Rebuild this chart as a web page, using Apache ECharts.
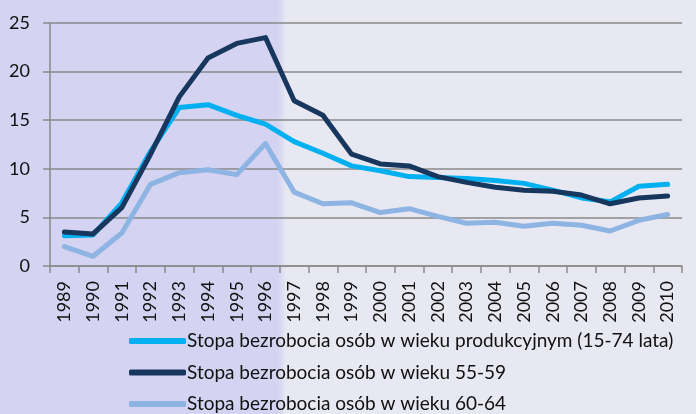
<!DOCTYPE html>
<html>
<head>
<meta charset="utf-8">
<script src="https://cdn.jsdelivr.net/npm/echarts@6/dist/echarts.min.js"></script>
<style>
  html, body { margin: 0; padding: 0; background: #e8e8f2; }
  #chart { width: 696px; height: 414px; }
</style>
</head>
<body>
<div id="chart"></div>
<script>
const years = ['1989', '1990', '1991', '1992', '1993', '1994', '1995', '1996', '1997', '1998', '1999',
  '2000', '2001', '2002', '2003', '2004', '2005', '2006', '2007', '2008', '2009', '2010']
const productive = [3.1, 3.2, 6.5, 11.8, 16.3, 16.6, 15.5, 14.6, 12.8, 11.6, 10.3,
  9.8, 9.2, 9.1, 9.0, 8.8, 8.5, 7.8, 7.0, 6.6, 8.2, 8.4]
const age5559 = [3.5, 3.3, 6.0, 11.5, 17.4, 21.4, 22.9, 23.5, 17.0, 15.5, 11.5,
  10.5, 10.3, 9.2, 8.6, 8.1, 7.8, 7.7, 7.3, 6.4, 7.0, 7.2]
const age6064 = [2.0, 1.0, 3.4, 8.4, 9.6, 9.9, 9.4, 12.6, 7.6, 6.4, 6.5,
  5.5, 5.9, 5.1, 4.4, 4.5, 4.1, 4.4, 4.2, 3.6, 4.7, 5.3]
const names = [
  'Stopa bezrobocia osób w wieku produkcyjnym (15-74 lata)',
  'Stopa bezrobocia osób w wieku 55-59',
  'Stopa bezrobocia osób w wieku 60-64'
]
const shadeUntil = '1996'

const font = 'Lato'
const axisGray = '#8a8a8a'

function line (name, data, color) {
  return {
    name: name,
    type: 'line',
    data: data,
    symbol: 'none',
    lineStyle: { width: 5, color: color, cap: 'round', join: 'round' },
    itemStyle: { color: color },
    animation: false
  }
}

const myChart = echarts.init(document.getElementById('chart'))
myChart.setOption({
  textStyle: { fontFamily: font },
  grid: { left: 50, right: 14, top: 23, bottom: 148 },
  legend: {
    orient: 'vertical',
    left: 129,
    top: 331,
    height: 83,
    padding: 0,
    icon: 'roundRect',
    itemWidth: 57,
    itemHeight: 6,
    itemGap: 11.5,
    textStyle: { fontSize: 19, lineHeight: 20, color: '#111', fontFamily: font, padding: [0, 0, 0, -4] },
    data: names
  },
  xAxis: {
    type: 'category',
    data: years,
    boundaryGap: true,
    axisLine: { lineStyle: { color: axisGray, width: 1.5 } },
    axisTick: { show: true, length: 7, lineStyle: { color: axisGray, width: 1.5 } },
    axisLabel: { rotate: 90, margin: 15, fontSize: 18, color: '#111', fontFamily: font }
  },
  yAxis: {
    type: 'value',
    min: 0,
    max: 25,
    interval: 5,
    axisLine: { show: true, lineStyle: { color: axisGray, width: 1.5 } },
    axisTick: { show: true, length: 7, lineStyle: { color: axisGray, width: 1.5 } },
    splitLine: { lineStyle: { color: axisGray, width: 1.5 } },
    axisLabel: { margin: 20, fontSize: 18, color: '#111', fontFamily: font }
  },
  series: [
    line(names[0], productive, '#00b0f0'),
    line(names[1], age5559, '#17375e'),
    line(names[2], age6064, '#8db4e2')
  ]
})

// lavender shading for the early period, from the left edge to the end of 1996
const idx = years.indexOf(shadeUntil)
const c0 = myChart.convertToPixel({ xAxisIndex: 0 }, years[idx])
const c1 = myChart.convertToPixel({ xAxisIndex: 0 }, years[idx + 1])
const edge = (c0 + c1) / 2
const w = edge + 6
myChart.setOption({
  graphic: [{
    type: 'rect',
    z: -10,
    silent: true,
    shape: { x: 0, y: 0, width: w, height: 414 },
    style: {
      fill: new echarts.graphic.LinearGradient(0, 0, 1, 0, [
        { offset: 0, color: '#d4d3f1' },
        { offset: (edge - 2) / w, color: '#d4d3f1' },
        { offset: 1, color: 'rgba(212,211,241,0)' }
      ])
    }
  }]
})
</script>
</body>
</html>
